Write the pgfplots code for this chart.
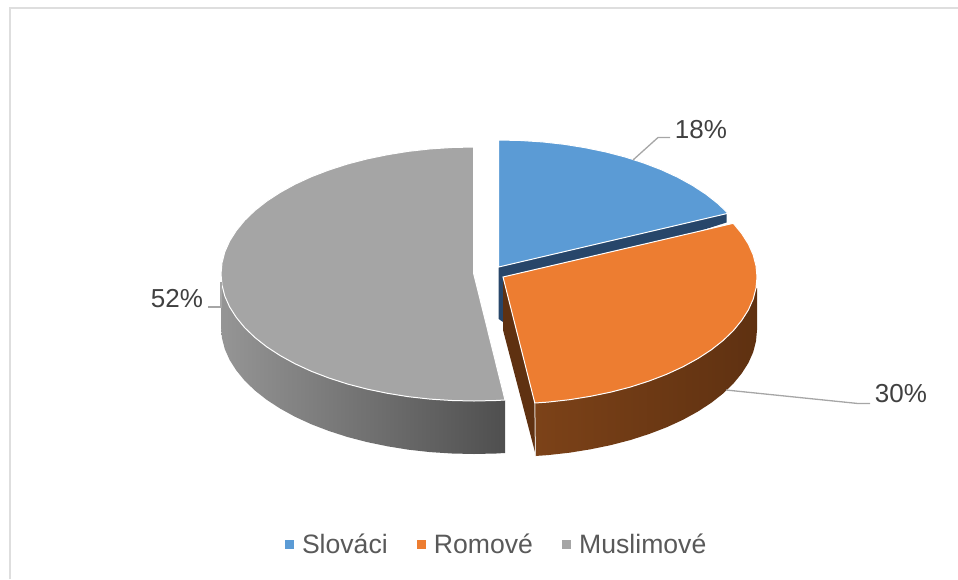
\documentclass[border=0pt]{standalone}
\usepackage{fontspec}
\usepackage{pgfplots}
\pgfplotsset{compat=1.18}
\setmainfont{Liberation Sans}

\definecolor{blueT}{HTML}{5B9BD5}
\definecolor{orangeT}{HTML}{ED7D31}
\definecolor{greyT}{HTML}{A5A5A5}
\definecolor{navy}{HTML}{27466A}
\definecolor{brown}{HTML}{5F3111}
\definecolor{brownL}{HTML}{7C4218}
\definecolor{greyL}{HTML}{959595}
\definecolor{greyD}{HTML}{4F4F4F}
\definecolor{frame}{HTML}{DEDEDE}
\definecolor{leader}{HTML}{A6A6A6}
\definecolor{lab}{HTML}{404040}
\definecolor{legtext}{HTML}{595959}

\begin{document}
\begin{tikzpicture}
\begin{axis}[
  width=958pt, height=579pt, scale only axis,
  xmin=0, xmax=958, ymin=0, ymax=579, y dir=reverse,
  axis lines=none,
  legend columns=3,
  legend cell align=left,
  legend style={
    at={(axis cs:285,544.5)}, anchor=west,
    draw=none, fill=none, inner sep=0pt,
    font=\fontsize{26.6}{30}\selectfont,
    text=legtext,
    nodes={inner sep=0pt},
    /tikz/every odd column/.append style={column sep=8.4pt},
    /tikz/every even column/.append style={column sep=29.4pt},
  },
  legend image code/.code={\fill[#1, draw=none] (0pt,-4.2pt) rectangle (8.4pt,4.2pt);},
]
% keeps the page as large as the axis box
\path (axis cs:0,0) rectangle (axis cs:958,579);

% frame of the screenshot
\addplot[forget plot, frame, line width=2pt] coordinates {(9.5,579) (9.5,7.5) (958,7.5)};

% legend keys
\addlegendimage{fill=blueT}
\addlegendimage{fill=orangeT}
\addlegendimage{fill=greyT}

% Muslimove: side, then top
\addplot[forget plot, draw=none, left color=greyL, right color=greyD] coordinates {
  (221,280) (505,400) (505,453) (496.1,453.5) (474,454) (451.9,453.5) (430.1,452.1) (408.5,449.7)
  (387.5,446.3) (367.1,442.1) (347.5,437) (328.9,431) (311.4,424.3) (295.1,416.8) (280.2,408.6)
  (266.7,399.8) (254.9,390.5) (244.7,380.7) (236.3,370.4) (229.6,359.9) (224.8,349.1) (222,338.1) (221,327)
} -- cycle;
\addplot[forget plot, fill=greyT, draw=white, line width=1pt] coordinates {
  (473.5,273) (473.5,147) (451.9,147.5) (430.1,148.9) (408.5,151.3) (387.5,154.7) (367.1,158.9)
  (347.5,164) (328.9,170) (311.4,176.7) (295.1,184.2) (280.2,192.4) (266.7,201.2) (254.9,210.5)
  (244.7,220.3) (236.3,230.6) (229.6,241.1) (224.8,251.9) (222,262.9) (221,274)
  (222,285.1) (224.8,296.1) (229.6,306.9) (236.3,317.4) (244.7,327.7) (254.9,337.5) (266.7,346.8)
  (280.2,355.6) (295.1,363.8) (311.4,371.3) (328.9,378) (347.5,384) (367.1,389.1) (387.5,393.3)
  (408.5,396.7) (430.1,399.1) (451.9,400.5) (474,401) (496.1,400.5) (505,400)
} -- cycle;

% Slovaci: dark edge, then top
\addplot[forget plot, fill=navy, draw=none] coordinates {
  (498.7,267) (726.5,213) (726.5,222.5) (640,250) (503,322) (498.7,319)
} -- cycle;
\addplot[forget plot, fill=blueT, draw=white, line width=1pt] coordinates {
  (498.7,267) (498.7,140) (520.8,140.5) (542.6,141.9) (564.2,144.3) (585.2,147.7) (605.6,151.9)
  (625.2,157) (643.8,163) (661.3,169.7) (677.6,177.2) (692.5,185.4) (706,194.2) (717.8,203.5) (728,213.3)
} -- cycle;

% Romove: inner face, outer side, top
\addplot[forget plot, fill=brown, draw=none] coordinates {
  (503,277) (535,403) (536,456) (503,330)
} -- cycle;
\addplot[forget plot, draw=none, left color=brownL, middle color=brown, right color=brown] coordinates {
  (757,288) (535,403) (535,456) (547.9,455.1) (569.5,452.7) (590.5,449.3) (610.9,445.1) (630.5,440)
  (649.1,434) (666.6,427.3) (682.9,419.8) (697.8,411.6) (711.3,402.8) (723.1,393.5) (733.3,383.7)
  (741.7,373.4) (748.4,362.9) (753.2,352.1) (756,341.1) (757,330)
} -- cycle;
\addplot[forget plot, fill=orangeT, draw=white, line width=1pt] coordinates {
  (503,277) (733.3,223.3) (741.7,233.6) (748.4,244.1) (753.2,254.9) (756,265.9) (757,277)
  (756,288.1) (753.2,299.1) (748.4,309.9) (741.7,320.4) (733.3,330.7) (723.1,340.5) (711.3,349.8)
  (697.8,358.6) (682.9,366.8) (666.6,374.3) (649.1,381) (630.5,387) (610.9,392.1) (590.5,396.3)
  (569.5,399.7) (547.9,402.1) (534.8,403)
} -- cycle;
\addplot[forget plot, white!80!brown, line width=1pt] coordinates {(534.8,403) (535.5,456)};

% leader lines
\addplot[forget plot, leader, line width=1.3pt] coordinates {(633,160) (658,137.5) (670,137.5)};
\addplot[forget plot, leader, line width=1.3pt] coordinates {(726,390) (858,403.5) (870,403.5)};
\addplot[forget plot, leader, line width=1.3pt] coordinates {(221,282) (221,307) (208,307)};

\addlegendentry{Slováci}
\addlegendentry{Romové}
\addlegendentry{Muslimové}

\node[text=lab, font=\fontsize{26}{30}\selectfont] at (axis cs:701,130) {18\%};
\node[text=lab, font=\fontsize{26}{30}\selectfont] at (axis cs:901,394) {30\%};
\node[text=lab, font=\fontsize{26}{30}\selectfont] at (axis cs:177,299) {52\%};
\end{axis}
\end{tikzpicture}
\end{document}
